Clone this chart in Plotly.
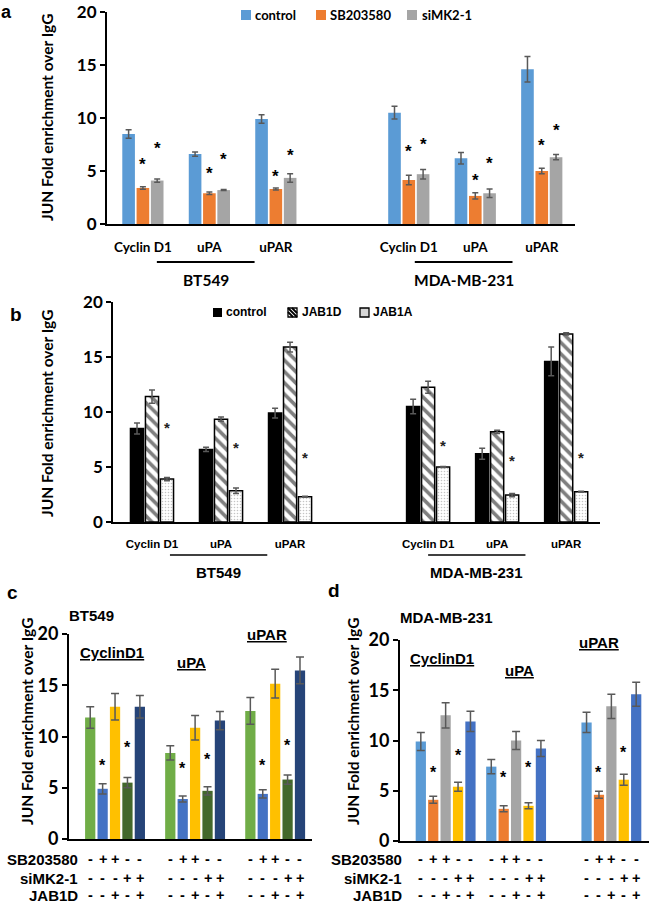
import plotly.graph_objects as go

W, H = 649, 905


def px(x):
    return x / W


def py(y):
    return 1 - y / H


# ---------------- data ----------------
genes = ["Cyclin D1", "uPA", "uPAR"]
cell_lines = ["BT549", "MDA-MB-231"]

# panel a
a_series = ["control", "SB203580", "siMK2-1"]
a_control = [8.5, 6.6, 9.9, 10.5, 6.2, 14.6]
a_control_err = [0.4, 0.2, 0.4, 0.6, 0.55, 1.2]
a_sb = [3.4, 2.9, 3.3, 4.15, 2.65, 5.0]
a_sb_err = [0.12, 0.12, 0.1, 0.45, 0.3, 0.25]
a_si = [4.1, 3.2, 4.35, 4.7, 2.9, 6.3]
a_si_err = [0.15, 0.05, 0.4, 0.45, 0.4, 0.25]
a_star_sb = [6.0, 5.1, 4.9, 7.2, 4.5, 7.8]
a_star_si = [7.5, 6.5, 6.8, 7.9, 6.1, 9.2]

# panel b
b_series = ["control", "JAB1D", "JAB1A"]
b_control = [8.5, 6.6, 9.9, 10.5, 6.2, 14.6]
b_control_err = [0.5, 0.2, 0.45, 0.65, 0.5, 1.3]
b_jab1d = [11.4, 9.35, 15.9, 12.25, 8.2, 17.1]
b_jab1d_err = [0.6, 0.2, 0.45, 0.55, 0.15, 0.1]
b_jab1a = [3.9, 2.85, 2.3, 5.0, 2.45, 2.75]
b_jab1a_err = [0.15, 0.25, 0.05, 0.05, 0.15, 0.05]
b_star = [9.0, 7.1, 6.2, 7.3, 6.0, 6.2]

# panels c / d (5 conditions per gene)
cd_genes = ["CyclinD1", "uPA", "uPAR"]
sb_signs = ["-", "+", "+", "-", "-"]
si_signs = ["-", "-", "-", "+", "+"]
jab_signs = ["-", "-", "+", "-", "+"]

c_ctrl = [11.85, 8.4, 12.5]
c_ctrl_err = [1.05, 0.7, 1.3]
c_sb = [4.9, 3.9, 4.4]
c_sb_err = [0.5, 0.3, 0.4]
c_sb_jab = [12.9, 10.85, 15.15]
c_sb_jab_err = [1.3, 1.2, 1.4]
c_si = [5.5, 4.7, 5.8]
c_si_err = [0.5, 0.4, 0.45]
c_si_jab = [12.9, 11.55, 16.45]
c_si_jab_err = [1.1, 0.9, 1.3]
c_star_sb = [7.6, 7.25, 7.6]
c_star_si = [9.3, 8.1, 9.5]

d_ctrl = [9.9, 7.4, 11.8]
d_ctrl_err = [0.9, 0.7, 1.0]
d_sb = [4.1, 3.2, 4.6]
d_sb_err = [0.35, 0.3, 0.35]
d_sb_jab = [12.5, 10.0, 13.4]
d_sb_jab_err = [1.25, 0.9, 1.2]
d_si = [5.4, 3.5, 6.1]
d_si_err = [0.45, 0.3, 0.55]
d_si_jab = [11.9, 9.2, 14.6]
d_si_jab_err = [1.0, 0.8, 1.2]
d_star_sb = [7.2, 6.7, 7.2]
d_star_si = [8.9, 7.7, 9.2]

y_ticks = [0, 5, 10, 15, 20]

# ---------------- layout constants ----------------
ab_pos = [0, 1, 2, 4, 5, 6]
c_pos = [0, 1, 2]
d_pos = [0, 0.88, 2.07]

CAL = "Lato"
ARI = "Liberation Sans"
ERR = "#595959"

fig = go.Figure()
annotations = []
shapes = []


def err(arr, w=3):
    return dict(type="data", array=arr, color=ERR, thickness=1.5, width=w, visible=True)


# ---- panel a ----
a_colors = ["#5B9BD5", "#ED7D31", "#A5A5A5"]
a_vals = [a_control, a_sb, a_si]
a_errs = [a_control_err, a_sb_err, a_si_err]
a_pitch, a_w = 0.215, 0.19
for i, (nm, v, e, col) in enumerate(zip(a_series, a_vals, a_errs, a_colors)):
    fig.add_trace(go.Bar(
        x=[p + (i - 1) * a_pitch for p in ab_pos], y=v, width=a_w, name=nm,
        marker=dict(color=col, line=dict(width=0)), error_y=err(e),
        xaxis="x", yaxis="y", showlegend=False))
for k, p in enumerate(ab_pos):
    for j, st in ((0, a_star_sb[k]), (1, a_star_si[k])):
        annotations.append(dict(x=p + j * a_pitch, y=st, xref="x", yref="y", text="*",
                                showarrow=False, yshift=-4,
                                font=dict(family=ARI, size=17, color="black", weight="bold")))

# ---- panel b ----
b_vals = [b_control, b_jab1d, b_jab1a]
b_errs = [b_control_err, b_jab1d_err, b_jab1a_err]
b_markers = [
    dict(color="black", line=dict(color="black", width=1.5)),
    dict(color="white", line=dict(color="black", width=1.5),
         pattern=dict(shape="\\", fgcolor="black", bgcolor="white", size=8, solidity=0.45)),
    dict(color="white", line=dict(color="black", width=1.5),
         pattern=dict(shape=".", fgcolor="#8a8a8a", bgcolor="white", size=3, solidity=0.22)),
]
b_pitch, b_w = 0.217, 0.19
for i, (nm, v, e, mk) in enumerate(zip(b_series, b_vals, b_errs, b_markers)):
    fig.add_trace(go.Bar(
        x=[p + (i - 1) * b_pitch for p in ab_pos], y=v, width=b_w, name=nm,
        marker=mk, error_y=err(e), xaxis="x2", yaxis="y2", showlegend=False))
for k, p in enumerate(ab_pos):
    annotations.append(dict(x=p + b_pitch, y=b_star[k], xref="x2", yref="y2", text="*",
                            showarrow=False, yshift=-4,
                            font=dict(family=ARI, size=15, color="#222222", weight="bold")))

# ---- panels c and d ----
cond_names = ["control", "SB203580", "SB203580 + JAB1D", "siMK2-1", "siMK2-1 + JAB1D"]
c_colors = ["#70AD47", "#4472C4", "#FFC000", "#43682B", "#264478"]
d_colors = ["#5B9BD5", "#ED7D31", "#A5A5A5", "#FFC000", "#4472C4"]
cd_pitch, cd_w = 0.155, 0.128
panels_cd = [
    ("x3", "y3", c_pos, c_colors,
     [c_ctrl, c_sb, c_sb_jab, c_si, c_si_jab],
     [c_ctrl_err, c_sb_err, c_sb_jab_err, c_si_err, c_si_jab_err],
     c_star_sb, c_star_si),
    ("x4", "y4", d_pos, d_colors,
     [d_ctrl, d_sb, d_sb_jab, d_si, d_si_jab],
     [d_ctrl_err, d_sb_err, d_sb_jab_err, d_si_err, d_si_jab_err],
     d_star_sb, d_star_si),
]
row_y = [859, 878, 895]
for xa, ya, pos, cols, vals, errs, st_sb, st_si in panels_cd:
    for i in range(5):
        fig.add_trace(go.Bar(
            x=[p + (i - 2) * cd_pitch for p in pos], y=vals[i], width=cd_w, name=cond_names[i],
            marker=dict(color=cols[i], line=dict(width=0)), error_y=err(errs[i], 4),
            xaxis=xa, yaxis=ya, showlegend=False))
    for k, p in enumerate(pos):
        for j, st in ((1, st_sb[k]), (3, st_si[k])):
            annotations.append(dict(x=p + (j - 2) * cd_pitch, y=st, xref=xa, yref=ya, text="*",
                                    showarrow=False, yshift=-4,
                                    font=dict(family=ARI, size=16, color="black", weight="bold")))
        for row, signs in enumerate((sb_signs, si_signs, jab_signs)):
            for i in range(5):
                annotations.append(dict(x=p + (i - 2) * cd_pitch, y=py(row_y[row]), xref=xa,
                                        yref="paper", text=signs[i], showarrow=False,
                                        font=dict(family=ARI, size=14.5, color="black", weight="bold")))

# gene labels (underlined) in c and d
c_lab_dx = [-0.04, -0.04, -0.1]
c_lab_y = [18.2, 17.25, 20.0]
d_lab_dx = [-0.04, 0.04, -0.16]
d_lab_y = [18.2, 17.0, 19.8]
for xa, ya, pos, dxs, ys in (("x3", "y3", c_pos, c_lab_dx, c_lab_y), ("x4", "y4", d_pos, d_lab_dx, d_lab_y)):
    for g, p, dx, yy in zip(cd_genes, pos, dxs, ys):
        annotations.append(dict(x=p + dx, y=yy, xref=xa, yref=ya, text="<u>" + g + "</u>",
                                showarrow=False,
                                font=dict(family=ARI, size=15, color="black", weight="bold")))

# row labels
for xr in (80, 404):
    for row, lab in enumerate(("SB203580", "siMK2-1", "JAB1D")):
        annotations.append(dict(x=px(xr), y=py(row_y[row]), xref="paper", yref="paper",
                                text=lab, showarrow=False, xanchor="right",
                                font=dict(family=ARI, size=15, color="black", weight="bold")))

# titles of c/d
annotations.append(dict(x=px(67), y=py(615), xref="paper", yref="paper", text=cell_lines[0],
                        showarrow=False, xanchor="left",
                        font=dict(family=ARI, size=15, color="black", weight="bold")))
annotations.append(dict(x=px(398), y=py(617), xref="paper", yref="paper", text=cell_lines[1],
                        showarrow=False, xanchor="left",
                        font=dict(family=ARI, size=15, color="black", weight="bold")))

# y-axis titles
for xc, yc, sz in ((47, 118, 15.5), (47, 414, 15.5), (27, 722, 15.5), (353, 722, 15.5)):
    annotations.append(dict(x=px(xc), y=py(yc), xref="paper", yref="paper",
                            text="JUN Fold enrichment over IgG", textangle=-90, showarrow=False,
                            font=dict(family=CAL, size=sz, color="black", weight="bold")))

# panel letters
annotations.append(dict(x=px(6), y=py(0), xref="paper", yref="paper", text="a",
                        showarrow=False, yanchor="top",
                        font=dict(family=ARI, size=18, color="black", weight="bold")))
for lt, xc, yc in (("b", 16, 314), ("c", 12, 592), ("d", 334, 590)):
    annotations.append(dict(x=px(xc), y=py(yc), xref="paper", yref="paper", text=lt,
                            showarrow=False,
                            font=dict(family=ARI, size=19, color="black", weight="bold")))

# cell line brackets in a and b
a_lines = [(0.21, 1.68), (4.09, 5.56)]
b_lines = [(0.26, 1.67), (4.0, 5.41)]
for xa, lines, ylin, ylab, fam, sz, lw in (("x", a_lines, 262, 280, CAL, 15.5, 2),
                                         ("x2", b_lines, 555, 572, ARI, 15, 1.3)):
    for (x0, x1), cl in zip(lines, cell_lines):
        shapes.append(dict(type="line", xref=xa, yref="paper", x0=x0, x1=x1,
                           y0=py(ylin), y1=py(ylin), line=dict(color="black", width=lw)))
        annotations.append(dict(x=(x0 + x1) / 2, y=py(ylab), xref=xa, yref="paper", text=cl,
                                showarrow=False,
                                font=dict(family=fam, size=sz, color="black", weight="bold")))

# ---- manual legends ----
for (x0, col), (tx, nm) in zip(((241, a_colors[0]), (316, a_colors[1]), (407, a_colors[2])),
                               ((253, a_series[0]), (328, a_series[1]), (420, a_series[2]))):
    shapes.append(dict(type="rect", xref="paper", yref="paper", x0=px(x0), x1=px(x0 + 10),
                       y0=py(20), y1=py(10), fillcolor=col, line=dict(width=0)))
    annotations.append(dict(x=px(tx), y=py(15), xref="paper", yref="paper", text=nm,
                            xanchor="left", showarrow=False,
                            font=dict(family=CAL, size=13, color="black", weight="bold")))
shapes.append(dict(type="rect", xref="paper", yref="paper", x0=px(213), x1=px(222),
                   y0=py(317), y1=py(308), fillcolor="black", line=dict(width=0)))
sx0, sx1, sy0, sy1 = 288, 297, 308, 317
shapes.append(dict(type="rect", xref="paper", yref="paper", x0=px(sx0), x1=px(sx1),
                   y0=py(sy1), y1=py(sy0), fillcolor="white", line=dict(color="black", width=1.3)))
for off in (-4, 0, 4):
    xa0, ya0 = sx0 + max(off, 0), sy0 + max(-off, 0)
    xa1, ya1 = sx1 + min(off, 0), sy1 + min(-off, 0)
    shapes.append(dict(type="line", xref="paper", yref="paper", x0=px(xa0), y0=py(ya0),
                       x1=px(xa1), y1=py(ya1), line=dict(color="black", width=1.8)))
shapes.append(dict(type="rect", xref="paper", yref="paper", x0=px(360), x1=px(369),
                   y0=py(317), y1=py(308), fillcolor="#d6d6d6", line=dict(color="black", width=1.3)))
for tx, nm in ((224, b_series[0]), (300, b_series[1]), (371, b_series[2])):
    annotations.append(dict(x=px(tx), y=py(312.5), xref="paper", yref="paper", text=nm,
                            xanchor="left", showarrow=False,
                            font=dict(family=ARI, size=12, color="black", weight="bold")))

for ann in annotations:
    ann.setdefault("xanchor", "center")
    ann.setdefault("yanchor", "middle")


# ---------------- axes ----------------
def xax(dom, rng, anchor, tickvals=None, ticktext=None, lw=2, tfont=None, standoff=0):
    d = dict(domain=[px(dom[0]), px(dom[1])], range=rng, showline=True, linecolor="black",
             linewidth=lw, showgrid=False, zeroline=False, ticks="", fixedrange=True,
             anchor=anchor, automargin=False)
    if tickvals is not None:
        d.update(tickvals=tickvals, ticktext=ticktext, tickfont=tfont, ticklabelstandoff=standoff)
    else:
        d.update(showticklabels=False)
    return d


def yax(dom, anchor, size, lw=2):
    return dict(domain=[py(dom[1]), py(dom[0])], range=[0, 20], tickvals=y_ticks,
                showline=True, linecolor="black", linewidth=lw, ticks="outside", ticklen=5,
                tickwidth=1.5, tickcolor="black", showgrid=False, zeroline=False, anchor=anchor,
                tickfont=dict(family=CAL, size=size, color="black", weight="bold"),
                fixedrange=True, automargin=False)


fig.update_layout(
    width=W, height=H, margin=dict(l=0, r=0, t=0, b=0, pad=0, autoexpand=False),
    paper_bgcolor="white", plot_bgcolor="white", barmode="overlay",
    showlegend=False,
    xaxis=xax((107, 575), [-0.54, 6.5], "y", ab_pos, genes + genes, 2,
              dict(family=CAL, size=13.5, color="black", weight="bold"), 10),
    yaxis=yax((12, 224), "x", 17),
    xaxis2=xax((113, 600), [-0.565, 6.49], "y2", ab_pos, genes + genes, 2,
               dict(family=ARI, size=11.5, color="black", weight="bold"), 10),
    yaxis2=yax((302, 522), "x2", 17, 1.5),
    xaxis3=xax((69, 312), [-0.575, 2.46], "y3"),
    yaxis3=yax((634, 839), "x3", 18),
    xaxis4=xax((400, 649), [-0.57, 2.54], "y4"),
    yaxis4=yax((640, 841), "x4", 18),
    annotations=annotations,
    shapes=shapes,
)

fig.write_html("out.html", config={"displayModeBar": False},
               post_script="document.body.style.margin='0';")
